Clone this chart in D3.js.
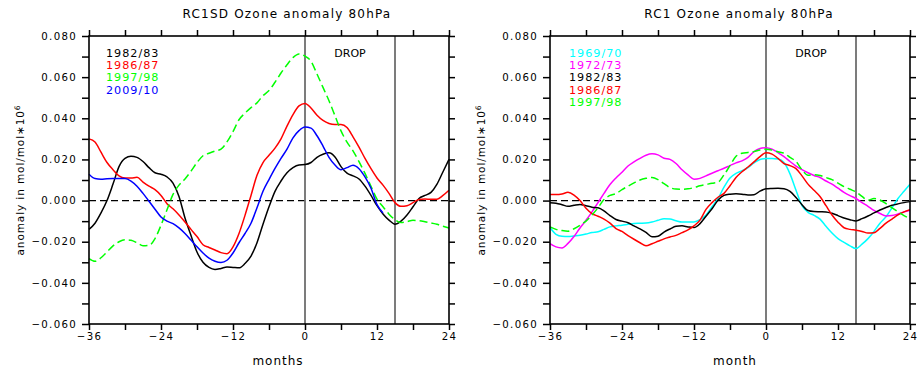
<!DOCTYPE html>
<html><head><meta charset="utf-8">
<script src="https://cdn.jsdelivr.net/npm/d3@7/dist/d3.min.js"></script>
<style>
body{margin:0;background:#fff;}
svg text{font-family:"DejaVu Sans",sans-serif;}
</style>
</head><body>
<svg id="chart" width="919" height="372"></svg>
<script>
// ---------- data (mol/mol*10^6) ----------
const months = d3.range(-36, 25);               // -36 .. 24
const blueMonths = d3.range(-36, 14);           // 2009/10 ends at +13

const xTickValues = [-36,-30,-24,-18,-12,-6,0,6,12,18,24];
const xLabelValues = [-36,-24,-12,0,12,24];
const xTickLabels = ["\u221236","\u221224","\u221212","0","12","24"];
const yTickValues = [-0.06,-0.05,-0.04,-0.03,-0.02,-0.01,0,0.01,0.02,0.03,0.04,0.05,0.06,0.07,0.08];
const yLabelValues = [-0.06,-0.04,-0.02,0,0.02,0.04,0.06,0.08];
const yTickLabels = ["\u22120.060","\u22120.040","\u22120.020","0.000","0.020","0.040","0.060","0.080"];
const markerMonths = [0, 15];

// RC1SD
const sd_1982_83 = [-0.0140,-0.0110,-0.0060,0.0000,0.0080,0.0165,0.0205,0.0215,0.0210,0.0190,0.0160,0.0135,0.0128,0.0115,0.0085,0.0020,-0.0085,-0.0170,-0.0250,-0.0300,-0.0325,-0.0335,-0.0330,-0.0323,-0.0325,-0.0327,-0.0306,-0.0270,-0.0205,-0.0115,-0.0030,0.0045,0.0095,0.0135,0.0160,0.0173,0.0175,0.0185,0.0210,0.0225,0.0232,0.0212,0.0165,0.0133,0.0120,0.0105,0.0070,0.0025,-0.0025,-0.0065,-0.0095,-0.0115,-0.0100,-0.0070,-0.0030,0.0010,0.0025,0.0040,0.0080,0.0140,0.0200];
const sd_1986_87 = [0.0300,0.0285,0.0235,0.0185,0.0150,0.0120,0.0110,0.0110,0.0113,0.0090,0.0070,0.0053,0.0025,-0.0015,-0.0040,-0.0070,-0.0104,-0.0140,-0.0175,-0.0215,-0.0228,-0.0240,-0.0253,-0.0258,-0.0225,-0.0160,-0.0072,0.0025,0.0123,0.0185,0.0220,0.0255,0.0300,0.0362,0.0418,0.0460,0.0472,0.0450,0.0415,0.0390,0.0375,0.0370,0.0370,0.0355,0.0310,0.0260,0.0205,0.0155,0.0110,0.0075,0.0035,-0.0010,-0.0028,-0.0025,-0.0010,0.0005,0.0008,0.0006,0.0007,0.0025,0.0050];
const sd_1997_98 = [-0.0282,-0.0295,-0.0278,-0.0250,-0.0220,-0.0200,-0.0190,-0.0193,-0.0205,-0.0220,-0.0218,-0.0185,-0.0120,-0.0045,0.0030,0.0075,0.0105,0.0143,0.0185,0.0218,0.0230,0.0241,0.0250,0.0285,0.0335,0.0393,0.0425,0.0452,0.0475,0.0510,0.0535,0.0575,0.0620,0.0660,0.0695,0.0713,0.0702,0.0677,0.0615,0.0550,0.0485,0.0412,0.0339,0.0284,0.0242,0.0189,0.0132,0.0069,0.0007,-0.0030,-0.0066,-0.0093,-0.0107,-0.0102,-0.0096,-0.0098,-0.0103,-0.0109,-0.0115,-0.0125,-0.0133];
const sd_2009_10 = [0.0128,0.0107,0.0104,0.0106,0.0107,0.0107,0.0107,0.0095,0.0070,0.0035,-0.0003,-0.0042,-0.0080,-0.0100,-0.0112,-0.0133,-0.0160,-0.0192,-0.0225,-0.0255,-0.0280,-0.0295,-0.0301,-0.0290,-0.0255,-0.0205,-0.0160,-0.0110,-0.0035,0.0045,0.0102,0.0156,0.0205,0.0250,0.0305,0.0340,0.0358,0.0352,0.0315,0.0265,0.0210,0.0173,0.0150,0.0160,0.0172,0.0155,0.0115,0.0060,-0.0020,-0.0060];

// RC1
const rc1_1969_70 = [-0.0131,-0.0164,-0.0174,-0.0175,-0.0172,-0.0169,-0.0163,-0.0155,-0.0152,-0.0140,-0.0128,-0.0123,-0.0120,-0.0115,-0.0111,-0.0110,-0.0109,-0.0104,-0.0096,-0.0088,-0.0090,-0.0098,-0.0104,-0.0104,-0.0104,-0.0093,-0.0070,-0.0030,0.0010,0.0065,0.0110,0.0132,0.0145,0.0160,0.0183,0.0200,0.0204,0.0205,0.0202,0.0185,0.0130,0.0050,-0.0025,-0.0057,-0.0072,-0.0090,-0.0125,-0.0158,-0.0185,-0.0203,-0.0220,-0.0233,-0.0212,-0.0185,-0.0150,-0.0110,-0.0079,-0.0035,0.0010,0.0045,0.0079];
const rc1_1972_73 = [-0.0209,-0.0225,-0.0230,-0.0208,-0.0175,-0.0133,-0.0096,-0.0055,-0.0010,0.0035,0.0078,0.0110,0.0138,0.0168,0.0188,0.0205,0.0220,0.0227,0.0222,0.0206,0.0200,0.0180,0.0150,0.0125,0.0104,0.0108,0.0120,0.0133,0.0145,0.0157,0.0170,0.0183,0.0193,0.0210,0.0238,0.0253,0.0257,0.0250,0.0233,0.0214,0.0190,0.0168,0.0150,0.0135,0.0122,0.0112,0.0095,0.0080,0.0060,0.0040,0.0024,0.0010,-0.0010,-0.0028,-0.0048,-0.0063,-0.0075,-0.0073,-0.0065,-0.0055,-0.0047];
const rc1_1982_83 = [-0.0010,-0.0013,-0.0020,-0.0028,-0.0023,-0.0019,-0.0025,-0.0032,-0.0035,-0.0050,-0.0073,-0.0092,-0.0100,-0.0108,-0.0123,-0.0138,-0.0155,-0.0176,-0.0173,-0.0153,-0.0138,-0.0125,-0.0123,-0.0128,-0.0131,-0.0112,-0.0076,-0.0040,0.0002,0.0025,0.0031,0.0033,0.0031,0.0027,0.0028,0.0046,0.0057,0.0059,0.0060,0.0058,0.0045,0.0015,-0.0020,-0.0048,-0.0053,-0.0054,-0.0055,-0.0062,-0.0073,-0.0085,-0.0093,-0.0099,-0.0088,-0.0075,-0.0060,-0.0046,-0.0034,-0.0023,-0.0016,-0.0010,-0.0005];
const rc1_1986_87 = [0.0029,0.0029,0.0032,0.0040,0.0027,0.0000,-0.0037,-0.0063,-0.0076,-0.0090,-0.0110,-0.0136,-0.0150,-0.0170,-0.0188,-0.0205,-0.0220,-0.0210,-0.0198,-0.0186,-0.0177,-0.0169,-0.0156,-0.0142,-0.0123,-0.0095,-0.0043,-0.0010,0.0016,0.0035,0.0072,0.0112,0.0140,0.0163,0.0188,0.0214,0.0232,0.0226,0.0205,0.0180,0.0170,0.0155,0.0120,0.0080,0.0050,0.0020,-0.0025,-0.0070,-0.0105,-0.0132,-0.0140,-0.0144,-0.0150,-0.0158,-0.0156,-0.0135,-0.0110,-0.0090,-0.0070,-0.0055,-0.0044];
const rc1_1997_98 = [-0.0128,-0.0140,-0.0146,-0.0149,-0.0137,-0.0120,-0.0100,-0.0070,-0.0035,0.0005,0.0025,0.0034,0.0053,0.0070,0.0086,0.0100,0.0108,0.0112,0.0102,0.0082,0.0063,0.0056,0.0055,0.0057,0.0063,0.0072,0.0078,0.0084,0.0089,0.0125,0.0170,0.0215,0.0230,0.0234,0.0238,0.0246,0.0250,0.0246,0.0237,0.0230,0.0210,0.0190,0.0150,0.0123,0.0126,0.0122,0.0112,0.0102,0.0085,0.0068,0.0055,0.0042,0.0020,0.0002,0.0010,0.0003,-0.0015,-0.0035,-0.0055,-0.0073,-0.0088];

// ---------- drawing ----------
const svg = d3.select("#chart");
const yTop = 36, yBot = 324;

const panels = [
  { x0: 89, x1: 449, title: "RC1SD Ozone anomaly 80hPa", titleX: 287, xlabel: "months", xlabelX: 278, dropX: 350, legendX: 106,
    series: [
      { name: "1982/83", months: months, values: sd_1982_83, color: "#000000", dash: null },
      { name: "1986/87", months: months, values: sd_1986_87, color: "#ff0000", dash: null },
      { name: "1997/98", months: months, values: sd_1997_98, color: "#00ff00", dash: "8,4" },
      { name: "2009/10", months: blueMonths, values: sd_2009_10, color: "#0000ff", dash: null }
    ]},
  { x0: 550, x1: 910, title: "RC1 Ozone anomaly 80hPa", titleX: 739, xlabel: "month", xlabelX: 735, dropX: 811, legendX: 569,
    series: [
      { name: "1969/70", months: months, values: rc1_1969_70, color: "#00ffff", dash: null },
      { name: "1972/73", months: months, values: rc1_1972_73, color: "#ff00ff", dash: null },
      { name: "1982/83", months: months, values: rc1_1982_83, color: "#000000", dash: null },
      { name: "1986/87", months: months, values: rc1_1986_87, color: "#ff0000", dash: null },
      { name: "1997/98", months: months, values: rc1_1997_98, color: "#00ff00", dash: "8,4" }
    ]}
];

const labelFor = (vals, labels) => d => {
  const i = vals.findIndex(v => Math.abs(v - d) < 1e-9);
  return i >= 0 ? labels[i] : "";
};

panels.forEach(p => {
  const x = d3.scaleLinear().domain([-36, 24]).range([p.x0, p.x1]);
  const y = d3.scaleLinear().domain([-0.06, 0.08]).range([yBot, yTop]);
  const g = svg.append("g");

  // zero dashed line
  g.append("line").attr("x1", x(-36)).attr("x2", x(24)).attr("y1", y(0)).attr("y2", y(0))
    .attr("stroke", "#000").attr("stroke-width", 1.3).attr("stroke-dasharray", "7,4");

  // vertical marker lines
  markerMonths.forEach(m => {
    g.append("line").attr("x1", x(m)).attr("x2", x(m)).attr("y1", yTop).attr("y2", yBot)
      .attr("stroke", "#6e6e6e").attr("stroke-width", 1.8);
  });

  // series
  p.series.forEach(s => {
    const line = d3.line().x((d, i) => x(s.months[i])).y(d => y(d)).curve(d3.curveMonotoneX);
    g.append("path").datum(s.values).attr("d", line)
      .attr("fill", "none").attr("stroke", s.color).attr("stroke-width", 1.5)
      .attr("stroke-dasharray", s.dash).attr("stroke-linejoin", "round");
  });

  // frame
  g.append("rect").attr("x", p.x0).attr("y", yTop).attr("width", p.x1 - p.x0).attr("height", yBot - yTop)
    .attr("fill", "none").attr("stroke", "#000").attr("stroke-width", 1.6);

  const styleAxis = sel => {
    sel.select(".domain").remove();
    sel.selectAll(".tick line").attr("stroke", "#000").attr("stroke-width", 1.5);
    sel.selectAll("text").attr("font-family", "DejaVu Sans").attr("font-size", 10.2)
      .style("letter-spacing", "1.3px").attr("fill", "#000");
  };

  g.append("g").attr("transform", `translate(${p.x0},0)`)
    .call(d3.axisLeft(y).tickValues(yTickValues).tickSize(7).tickPadding(5)
      .tickFormat(labelFor(yLabelValues, yTickLabels)))
    .call(styleAxis);
  g.append("g").attr("transform", `translate(${p.x1},0)`)
    .call(d3.axisRight(y).tickValues(yTickValues).tickSize(6).tickFormat(""))
    .call(styleAxis);
  g.append("g").attr("transform", `translate(0,${yBot})`)
    .call(d3.axisBottom(x).tickValues(xTickValues).tickSize(6).tickPadding(2.5)
      .tickFormat(labelFor(xLabelValues, xTickLabels)))
    .call(styleAxis);
  g.append("g").attr("transform", `translate(0,${yTop})`)
    .call(d3.axisTop(x).tickValues(xTickValues).tickSize(6).tickFormat(""))
    .call(styleAxis);

  // title
  g.append("text").attr("x", p.titleX).attr("y", 18).attr("text-anchor", "middle")
    .attr("font-size", 12).attr("fill", "#000").style("letter-spacing", "1.2px").text(p.title);

  // x label
  g.append("text").attr("x", p.xlabelX).attr("y", 365).attr("text-anchor", "middle")
    .attr("font-size", 12).attr("fill", "#000").style("letter-spacing", "1px").text(p.xlabel);

  // y label
  const yl = g.append("text").attr("transform", `translate(${p.x0 - 65},180) rotate(-90)`)
    .attr("text-anchor", "middle").attr("font-size", 10.5).attr("fill", "#000").style("letter-spacing", "0.9px");
  yl.append("tspan").text("anomaly in mol/mol\u221710");
  yl.append("tspan").attr("dy", -4).attr("font-size", 7.5).text("6");

  // DROP
  g.append("text").attr("x", p.dropX).attr("y", 56.5).attr("text-anchor", "middle")
    .attr("font-size", 11).attr("fill", "#000").text("DROP");

  // legend
  p.series.forEach((s, i) => {
    g.append("text").attr("x", p.legendX).attr("y", 57 + i * 12.2)
      .attr("font-size", 11.2).style("letter-spacing", "1px").style("fill", s.color).text(s.name);
  });
});
</script>
</body></html>
